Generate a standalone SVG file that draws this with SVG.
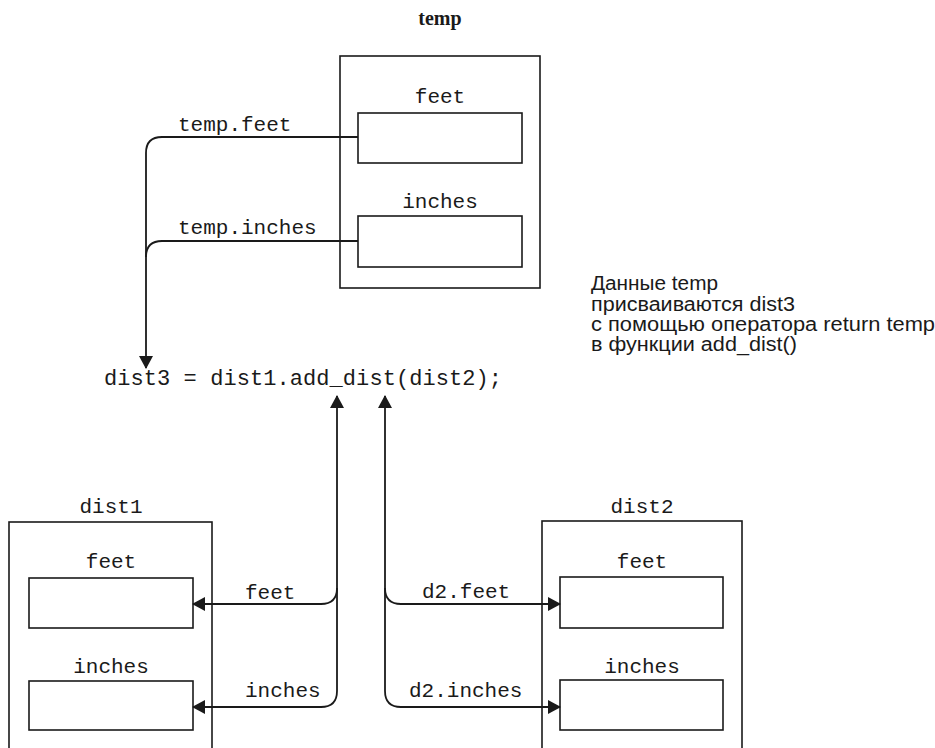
<svg xmlns="http://www.w3.org/2000/svg" width="935" height="748" viewBox="0 0 935 748">
<style>
.box{fill:none;stroke:#1a1a1a;stroke-width:1.6}
.ln{fill:none;stroke:#1a1a1a;stroke-width:1.8}
.mono{font-family:"Liberation Mono","Courier New",monospace;font-size:21px;fill:#1a1a1a}
.c{text-anchor:middle}
.ru{font-family:"Liberation Sans",Arial,sans-serif;font-size:20px;fill:#1a1a1a}
.title{font-family:"Liberation Serif","Times New Roman",serif;font-size:20px;font-weight:bold;fill:#1a1a1a}
</style>
<defs>
<marker id="ah" markerWidth="14" markerHeight="14" refX="12" refY="7" orient="auto" markerUnits="userSpaceOnUse">
<path d="M0,0 L13,7 L0,14 Z" fill="#1a1a1a"/>
</marker>
</defs>
<rect width="935" height="748" fill="#fff"/>
<text class="title c" x="440" y="25">temp</text>
<g id="temp">
<rect class="box" x="340" y="56" width="200" height="232"/>
<text class="mono c" x="440" y="103">feet</text>
<rect class="box" x="358" y="113" width="164" height="50"/>
<text class="mono c" x="440" y="208">inches</text>
<rect class="box" x="358" y="216" width="164" height="51"/>
</g>
<g id="dist1">
<text class="mono c" x="111" y="513">dist1</text>
<rect class="box" x="9" y="522" width="203" height="240"/>
<text class="mono c" x="111" y="568">feet</text>
<rect class="box" x="29" y="578" width="164" height="50"/>
<text class="mono c" x="111" y="673">inches</text>
<rect class="box" x="29" y="681" width="164" height="49"/>
</g>
<g id="dist2">
<text class="mono c" x="642" y="513">dist2</text>
<rect class="box" x="542" y="521" width="200" height="240"/>
<text class="mono c" x="642" y="568">feet</text>
<rect class="box" x="560" y="577" width="163" height="51"/>
<text class="mono c" x="642" y="673">inches</text>
<rect class="box" x="560" y="680" width="163" height="50"/>
</g>
<g id="statement">
<text class="mono" x="104" y="385" style="font-size:22px" textLength="398">dist3 = dist1.add_dist(dist2);</text>
</g>
<g id="note">
<text class="ru" x="591" y="290" textLength="127" lengthAdjust="spacingAndGlyphs">Данные temp</text>
<text class="ru" x="591" y="311" textLength="204" lengthAdjust="spacingAndGlyphs">присваиваются dist3</text>
<text class="ru" x="591" y="331" textLength="344" lengthAdjust="spacingAndGlyphs">с помощью оператора return temp</text>
<text class="ru" x="591" y="351" textLength="206" lengthAdjust="spacingAndGlyphs">в функции add_dist()</text>
</g>
<g id="connectors">
<path class="ln" d="M358,137 H162 Q146,137 146,153 V368" marker-end="url(#ah)"/>
<path class="ln" d="M358,241 H162 Q146,241 146,257"/>
<path class="ln" d="M337,691 Q337,707 321,707 H193" marker-end="url(#ah)"/>
<path class="ln" d="M337,691 V396" marker-end="url(#ah)"/>
<path class="ln" d="M337,588 Q337,604 321,604 H193" marker-end="url(#ah)"/>
<path class="ln" d="M385,691 V396" marker-end="url(#ah)"/>
<path class="ln" d="M385,588 Q385,604 401,604 H560" marker-end="url(#ah)"/>
<path class="ln" d="M385,691 Q385,707 401,707 H560" marker-end="url(#ah)"/>
<text class="mono" x="178" y="131">temp.feet</text>
<text class="mono" x="178" y="234">temp.inches</text>
<text class="mono" x="245" y="599">feet</text>
<text class="mono" x="245" y="697">inches</text>
<text class="mono" x="422" y="598">d2.feet</text>
<text class="mono" x="409" y="697">d2.inches</text>
</g>
</svg>
